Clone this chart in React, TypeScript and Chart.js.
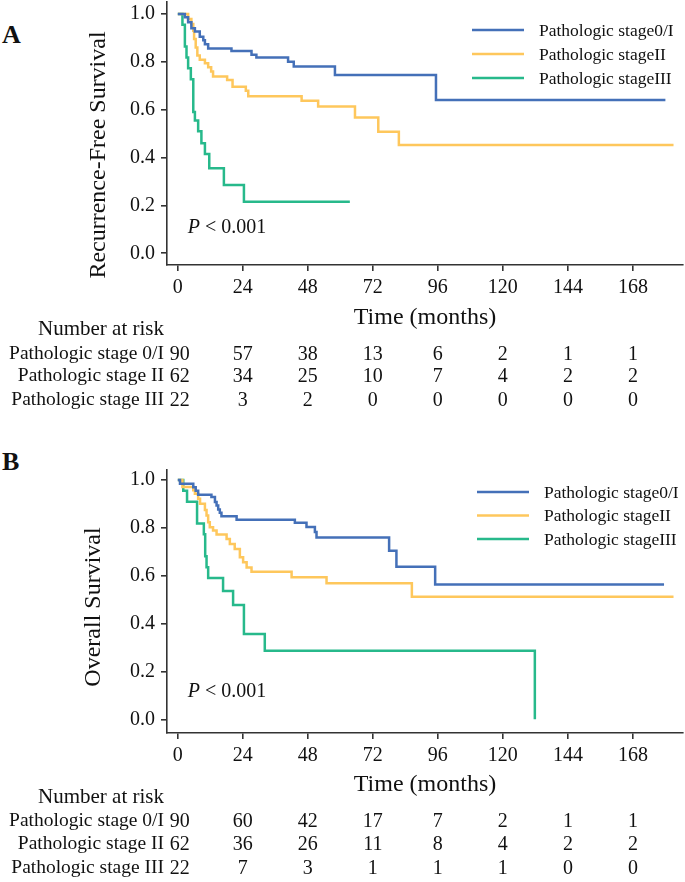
import React, { useEffect, useRef, useState } from 'react';
import { Chart, registerables } from 'chart.js';

Chart.register(...registerables);

type Pt = [number, number];

// ---------- shared axis / labels ----------
const timeTicks = [0, 24, 48, 72, 96, 120, 144, 168];
const survivalTicks = [0, 0.2, 0.4, 0.6, 0.8, 1.0];
const groupNames = ['Pathologic stage0/I', 'Pathologic stageII', 'Pathologic stageIII'];
const riskRowLabels = ['Pathologic stage 0/I', 'Pathologic stage II', 'Pathologic stage III'];
const groupColors = ['#4470b8', '#fec75c', '#27b98b'];

// ---------- A: Recurrence-free survival (time in months, survival) ----------
const rfsStage0I: Pt[] = [
  [0, 1], [2.6, 0.986], [3.8, 0.965], [5.0, 0.94], [6.3, 0.927], [8.1, 0.905], [9.4, 0.89],
  [10, 0.873], [11.2, 0.856], [19.8, 0.845], [27.2, 0.83], [29, 0.818], [40.7, 0.8],
  [42.8, 0.78], [58, 0.745], [95.3, 0.64], [180, 0.64],
];
const rfsStageII: Pt[] = [
  [0, 1], [3.8, 0.979], [5.0, 0.958], [5.7, 0.93], [6.0, 0.895], [6.6, 0.86], [7.2, 0.826],
  [8.1, 0.809], [10, 0.794], [11.2, 0.777], [12.3, 0.76], [13, 0.739], [18.2, 0.724],
  [20.2, 0.696], [25.1, 0.679], [26, 0.656], [45.7, 0.637], [51.8, 0.613], [65.4, 0.567],
  [74, 0.508], [81.6, 0.452], [183, 0.452],
];
const rfsStageIII: Pt[] = [
  [0, 1], [1.7, 0.955], [2.6, 0.864], [3.2, 0.818], [3.8, 0.773], [4.8, 0.727], [5.7, 0.59],
  [6.3, 0.555], [7.5, 0.51], [8.7, 0.46], [10, 0.415], [11.6, 0.355], [17, 0.285],
  [24.4, 0.215], [63.5, 0.215],
];
const rfsRisk0I = [90, 57, 38, 13, 6, 2, 1, 1];
const rfsRiskII = [62, 34, 25, 10, 7, 4, 2, 2];
const rfsRiskIII = [22, 3, 2, 0, 0, 0, 0, 0];

// ---------- B: Overall survival ----------
const osStage0I: Pt[] = [
  [0, 1], [0.8, 0.985], [5.7, 0.97], [6.6, 0.955], [7.5, 0.939], [12.4, 0.929], [13.7, 0.908],
  [14.3, 0.894], [14.9, 0.877], [15.5, 0.863], [16.1, 0.849], [21.7, 0.834], [43.2, 0.822],
  [47.5, 0.804], [50.6, 0.783], [51.2, 0.76], [78, 0.705], [80.7, 0.638], [95, 0.564],
  [179.5, 0.564],
];
const osStageII: Pt[] = [
  [0, 1], [1.7, 0.971], [5.7, 0.957], [6.3, 0.943], [7.5, 0.922], [8.2, 0.901], [10, 0.875],
  [10.6, 0.852], [11.2, 0.824], [11.8, 0.803], [13, 0.789], [14.3, 0.772], [18, 0.754],
  [19.2, 0.733], [21, 0.712], [22.9, 0.677], [24.1, 0.656], [25.4, 0.635], [27.2, 0.617],
  [42, 0.594], [54.9, 0.569], [86.4, 0.512], [183, 0.512],
];
const osStageIII: Pt[] = [
  [0, 1], [2.0, 0.955], [3.4, 0.909], [7.1, 0.818], [9.6, 0.773], [10.1, 0.682],
  [10.6, 0.636], [11.2, 0.591], [16.7, 0.536], [20.4, 0.478], [24.4, 0.357], [32.1, 0.287],
  [131.8, 0],
];
const osRisk0I = [90, 60, 42, 17, 7, 2, 1, 1];
const osRiskII = [62, 36, 26, 11, 8, 4, 2, 2];
const osRiskIII = [22, 7, 3, 1, 1, 1, 0, 0];

const FONT = '"Liberation Serif", "Times New Roman", serif';
const INK = '#111';

// ---------- plugins ----------
const kmLegendPlugin = {
  id: 'kmLegend',
  afterDraw(chart: any, _a: any, o: any) {
    const { ctx, chartArea } = chart;
    ctx.save();
    ctx.font = `${o.size}px ${FONT}`;
    ctx.textBaseline = 'middle';
    ctx.textAlign = 'left';
    chart.data.datasets.forEach((ds: any, i: number) => {
      const y = chartArea.top + o.top + i * o.gap;
      const x0 = chartArea.right - o.fromRight;
      ctx.strokeStyle = ds.borderColor;
      ctx.lineWidth = 2.5;
      ctx.beginPath();
      ctx.moveTo(x0, y);
      ctx.lineTo(x0 + o.lineLen, y);
      ctx.stroke();
      ctx.fillStyle = INK;
      ctx.fillText(ds.label, x0 + o.lineLen + o.textGap, y + 1);
    });
    ctx.restore();
  },
};

const pValuePlugin = {
  id: 'pValue',
  afterDatasetsDraw(chart: any, _a: any, o: any) {
    const { ctx, scales } = chart;
    const x = scales.x.getPixelForValue(o.x);
    const y = scales.y.getPixelForValue(o.y);
    ctx.save();
    ctx.fillStyle = INK;
    ctx.textBaseline = 'middle';
    ctx.textAlign = 'left';
    ctx.font = `italic ${o.size}px ${FONT}`;
    ctx.fillText('P', x, y);
    const w = ctx.measureText('P').width;
    ctx.font = `${o.size}px ${FONT}`;
    ctx.fillText(' < 0.001', x + w, y);
    ctx.restore();
  },
};

// y-axis title drawn rotated at a given centre (canvas coordinates)
const yTitlePlugin = {
  id: 'yTitle',
  afterDraw(chart: any, _a: any, o: any) {
    const { ctx } = chart;
    ctx.save();
    ctx.translate(o.x, o.y);
    ctx.rotate(-Math.PI / 2);
    ctx.font = `${o.size}px ${FONT}`;
    ctx.fillStyle = INK;
    ctx.textAlign = 'center';
    ctx.textBaseline = 'middle';
    ctx.fillText(o.text, 0, 0);
    ctx.restore();
  },
};

interface PanelProps {
  letter: string;
  top: number;
  height: number;
  padTop: number;
  xScaleHeight: number;
  xTitlePad: number;
  yMin: number;
  yMax: number;
  yTitle: string;
  yTitleX: number;
  yTitleY: number;
  curves: Pt[][];
  risk: number[][];
  riskY: number[];
  letterTop: number;
  legend: { top: number; gap: number; fromRight: number };
  pY: number;
}

function Panel(p: PanelProps) {
  const ref = useRef<HTMLCanvasElement | null>(null);
  const [cols, setCols] = useState<number[]>([]);

  useEffect(() => {
    if (!ref.current) return;
    const axisLine = { display: true, color: '#333', width: 1.6 };
    const gridTicks = { display: true, drawOnChartArea: false, drawTicks: true, tickLength: 6, color: '#333', lineWidth: 1.6 };
    const chart = new Chart(ref.current, {
      type: 'line',
      data: {
        datasets: p.curves.map((c, i) => ({
          label: groupNames[i],
          data: c.map(([x, y]) => ({ x, y })),
          borderColor: groupColors[i],
          backgroundColor: groupColors[i],
          borderWidth: 2.5,
          pointRadius: 0,
          stepped: true,
          fill: false,
        })),
      },
      options: {
        animation: false,
        responsive: false,
        maintainAspectRatio: false,
        layout: { padding: { top: p.padTop, right: 2, bottom: 0, left: 0 } },
        plugins: {
          legend: { display: false },
          tooltip: { enabled: false },
          kmLegend: { size: 17.5, top: p.legend.top, gap: p.legend.gap, fromRight: p.legend.fromRight, lineLen: 52, textGap: 15 },
          pValue: { x: 3.7, y: p.pY, size: 20 },
          yTitle: { text: p.yTitle, x: p.yTitleX, y: p.yTitleY, size: 24 },
        } as any,
        scales: {
          x: {
            type: 'linear',
            min: -4,
            max: 186.5,
            afterBuildTicks: (s: any) => { s.ticks = timeTicks.map((v) => ({ value: v })); },
            afterFit: (s: any) => { s.height = p.xScaleHeight; s.paddingLeft = 0; s.paddingRight = 0; },
            ticks: { font: { family: FONT, size: 20 }, color: INK, padding: 5, maxRotation: 0 },
            grid: gridTicks,
            border: axisLine,
            title: { display: true, text: 'Time (months)', color: INK, font: { family: FONT, size: 24, lineHeight: 1.2 }, padding: { top: 0, bottom: p.xTitlePad } },
          },
          y: {
            type: 'linear',
            min: p.yMin,
            max: p.yMax,
            afterBuildTicks: (s: any) => { s.ticks = survivalTicks.map((v) => ({ value: v })); },
            afterFit: (s: any) => { s.width = 167; s.paddingTop = 0; s.paddingBottom = 0; },
            ticks: { font: { family: FONT, size: 20 }, color: INK, padding: 6, callback: (v: any) => Number(v).toFixed(1) },
            grid: gridTicks,
            border: axisLine,
            title: { display: false },
          },
        },
      } as any,
      plugins: [kmLegendPlugin, pValuePlugin, yTitlePlugin],
    });
    setCols(timeTicks.map((v) => chart.scales.x.getPixelForValue(v)));
    return () => chart.destroy();
  }, []);

  const txt: React.CSSProperties = { position: 'absolute', fontFamily: FONT, fontSize: 19.5, lineHeight: '20px', color: INK, whiteSpace: 'nowrap', transform: 'translateY(-50%)' };

  return (
    <>
      <div style={{ position: 'absolute', left: 2, top: p.letterTop, fontFamily: FONT, fontWeight: 'bold', fontSize: 26, lineHeight: '26px', color: INK }}>{p.letter}</div>
      <canvas ref={ref} width={685} height={p.height} style={{ position: 'absolute', left: 0, top: p.top, display: 'block' }} />
      <div style={{ ...txt, fontSize: 21, left: 0, width: 164, textAlign: 'right', top: p.riskY[0] }}>Number at risk</div>
      {riskRowLabels.map((lab, r) => (
        <div key={'l' + r} style={{ ...txt, left: 0, width: 164, textAlign: 'right', top: p.riskY[r + 1] }}>{lab}</div>
      ))}
      {cols.length > 0 && p.risk.map((row, r) => row.map((n, c) => (
        <div key={r + '-' + c} style={{ ...txt, fontSize: 20, left: cols[c] - 20 + (c === 0 ? 2 : 0), width: 40, textAlign: 'center', top: p.riskY[r + 1] }}>{n}</div>
      )))}
    </>
  );
}

export default function App() {
  return (
    <div style={{ position: 'absolute', left: 0, top: 0, width: 685, height: 882, background: '#fff', overflow: 'hidden' }}>
      <Panel
        letter="A"
        top={0}
        height={335}
        padTop={2}
        xScaleHeight={70}
        xTitlePad={2.6}
        yMin={-0.049}
        yMax={1.05}
        yTitle="Recurrence-Free Survival"
        yTitleX={99}
        yTitleY={155}
        curves={[rfsStage0I, rfsStageII, rfsStageIII]}
        risk={[rfsRisk0I, rfsRiskII, rfsRiskIII]}
        riskY={[328, 353, 375, 399]}
        letterTop={22}
        legend={{ top: 28, gap: 24, fromRight: 211 }}
        pY={0.106}
      />
      <Panel
        letter="B"
        top={440}
        height={360}
        padTop={30}
        xScaleHeight={67}
        xTitlePad={0.6}
        yMin={-0.057}
        yMax={1.042}
        yTitle="Overall Survival"
        yTitleX={94}
        yTitleY={167}
        curves={[osStage0I, osStageII, osStageIII]}
        risk={[osRisk0I, osRiskII, osRiskIII]}
        riskY={[796, 820, 843, 867]}
        letterTop={449}
        legend={{ top: 22, gap: 23.5, fromRight: 206 }}
        pY={0.114}
      />
    </div>
  );
}
